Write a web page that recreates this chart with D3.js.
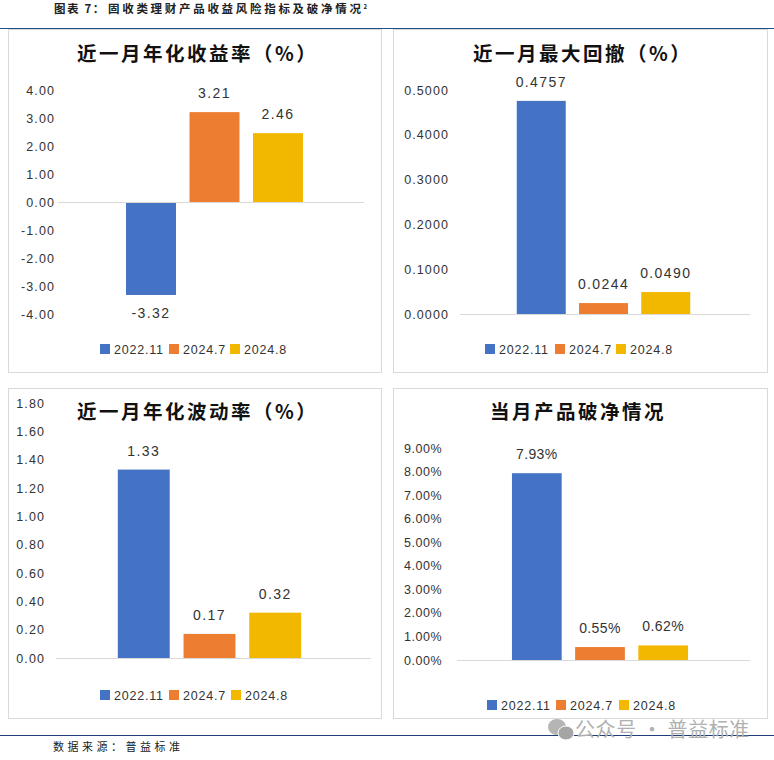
<!DOCTYPE html>
<html><head><meta charset="utf-8">
<script src="https://cdn.jsdelivr.net/npm/d3@7/dist/d3.min.js"></script>
<style>html,body{margin:0;padding:0;background:#fff}svg{display:block}</style>
</head><body><svg id="c" width="774" height="760"></svg>
<script>
const seriesNames = ["2022.11", "2024.7", "2024.8"];
const seriesColors = ["#4472C4", "#ED7D31", "#F2B800"];
const returnValues = [-3.32, 3.21, 2.46];
const drawdownValues = [0.4757, 0.0244, 0.0490];
const volatilityValues = [1.33, 0.17, 0.32];
const breakValues = [7.93, 0.55, 0.62];
const returnTicks = [-4, -3, -2, -1, 0, 1, 2, 3, 4];
const drawdownTicks = [0, 0.1, 0.2, 0.3, 0.4, 0.5];
const volatilityTicks = [0, 0.2, 0.4, 0.6, 0.8, 1.0, 1.2, 1.4, 1.6, 1.8];
const breakTicks = [0, 1, 2, 3, 4, 5, 6, 7, 8, 9];
const titles = ["近一月年化收益率（%）", "近一月最大回撤（%）", "近一月年化波动率（%）", "当月产品破净情况"];
const headerLabel = "图表 7：";
const headerText = "固收类理财产品收益风险指标及破净情况";
const sourceText = "数据来源：普益标准";
const watermarkText = "公众号 · 普益标准";

const CJK = '"Noto Sans CJK SC","Noto Sans",sans-serif';
const LAT = '"Liberation Sans","DejaVu Sans",sans-serif';
const svg = d3.select("#c");
const f2 = d => d3.format(".2f")(d).replace("−", "-");
const f4 = d3.format(".4f");
const pct = d => d3.format(".2f")(d) + "%";

const panels = [
 {box:[8,29,373,343], values:returnValues, ticks:returnTicks, dom:[-4,4], y:[314,90], fmt:f2, title:titles[0], tx:77, ty:54,
  base:[58,364], band:[112.5,316.5], pad:.213, tickX:55, leg:[100,169,230], legY:349},
 {box:[393,29,374,343], values:drawdownValues, ticks:drawdownTicks, dom:[0,0.5], y:[314,90], fmt:f4, title:titles[1], tx:473, ty:54,
  base:[460,750], band:[503.5,703.5], pad:.213, tickX:449, leg:[485,555,616], legY:349},
 {box:[8,388,373,330], values:volatilityValues, ticks:volatilityTicks, dom:[0,1.8], y:[658,403], fmt:f2, title:titles[2], tx:77, ty:412,
  base:[56,371], band:[104,315], pad:.21, tickX:45, leg:[100,169,231], legY:695},
 {box:[393,388,374,330], values:breakValues, ticks:breakTicks, dom:[0,9], y:[660,448], fmt:pct, title:titles[3], tx:490, ty:412,
  base:[457,750], band:[498.5,701.5], pad:.213, tickX:442, leg:[487,556,619], legY:705}
];

svg.append("line").attr("x1",0).attr("x2",774).attr("y1",28.5).attr("y2",28.5).attr("stroke","#1F4E8C").attr("stroke-width",1.2);
svg.append("line").attr("x1",0).attr("x2",774).attr("y1",735.5).attr("y2",735.5).attr("stroke","#1F3F7A").attr("stroke-width",1.2);
const hdr = svg.append("text").attr("y",13).attr("font-family",CJK).attr("font-size",11.5).attr("font-weight",700).attr("fill","#222");
hdr.append("tspan").attr("x",54).attr("letter-spacing",1.6).text(headerLabel);
hdr.append("tspan").attr("x",108).attr("letter-spacing",2.7).text(headerText);
hdr.append("tspan").attr("dy",-4).attr("font-size",6).text("2");
svg.append("text").attr("x",53).attr("y",751).attr("font-family",CJK).attr("font-size",11).attr("letter-spacing",3.5).attr("fill","#222").text(sourceText);

panels.forEach(p => {
  const g = svg.append("g");
  g.append("rect").attr("x",p.box[0]+.5).attr("y",p.box[1]+.5).attr("width",p.box[2]).attr("height",p.box[3])
    .attr("fill","#fff").attr("stroke","#D9D9D9");
  g.append("text").attr("x",p.tx).attr("y",p.ty).attr("dy","0.36em").attr("text-anchor","start")
    .attr("font-family",CJK).attr("font-weight",700).attr("font-size",19.5).attr("letter-spacing",2.5).attr("fill","#111").text(p.title);

  const y = d3.scaleLinear().domain(p.dom).range(p.y);
  const x = d3.scaleBand().domain(seriesNames).range(p.band).padding(p.pad);

  const yAxis = d3.axisLeft(y).tickValues(p.ticks).tickSize(0).tickPadding(0).tickFormat(p.fmt);
  const ya = g.append("g").attr("transform",`translate(${p.tickX},0)`).call(yAxis);
  ya.select(".domain").remove();
  ya.selectAll("text").attr("font-family",LAT).attr("font-size",12.5).attr("letter-spacing",p.fmt===pct?0.5:1.1).attr("fill","#333");

  g.selectAll("rect.bar").data(p.values).join("rect").attr("class","bar")
    .attr("x",(d,i)=>x(seriesNames[i])).attr("width",x.bandwidth())
    .attr("y",d=>Math.min(y(d),y(0))).attr("height",d=>Math.abs(y(d)-y(0)))
    .attr("fill",(d,i)=>seriesColors[i]);

  g.append("line").attr("x1",p.base[0]).attr("x2",p.base[1]).attr("y1",y(0)+.5).attr("y2",y(0)+.5).attr("stroke","#D9D9D9");

  g.selectAll("text.val").data(p.values).join("text").attr("class","val")
    .attr("x",(d,i)=>x(seriesNames[i])+x.bandwidth()/2)
    .attr("y",d=> d<0 ? y(d)+18 : y(d)-19).attr("dy","0.36em").attr("text-anchor","middle")
    .attr("font-family",LAT).attr("font-size",14).attr("letter-spacing",p.fmt===pct?0.4:1.4).attr("fill","#333").text(p.fmt);

  seriesNames.forEach((s,i)=>{
    g.append("rect").attr("x",p.leg[i]).attr("y",p.legY-5).attr("width",10).attr("height",10).attr("fill",seriesColors[i]);
    g.append("text").attr("x",p.leg[i]+14).attr("y",p.legY).attr("dy","0.36em")
      .attr("font-family",LAT).attr("font-size",12.5).attr("letter-spacing",0.8).attr("fill","#333").text(s);
  });
});

const wm = svg.append("g");
wm.append("ellipse").attr("cx",557).attr("cy",727).attr("rx",9).attr("ry",8).attr("fill","#B5B5B5");
wm.append("ellipse").attr("cx",566).attr("cy",733).attr("rx",8).attr("ry",7).attr("fill","#A5A5A5").attr("stroke","#fff");
svg.append("text").attr("x",575).attr("y",737).attr("font-family",CJK).attr("font-size",20).attr("letter-spacing",0.6).attr("fill","#B0B0B0").text(watermarkText);
</script></body></html>
